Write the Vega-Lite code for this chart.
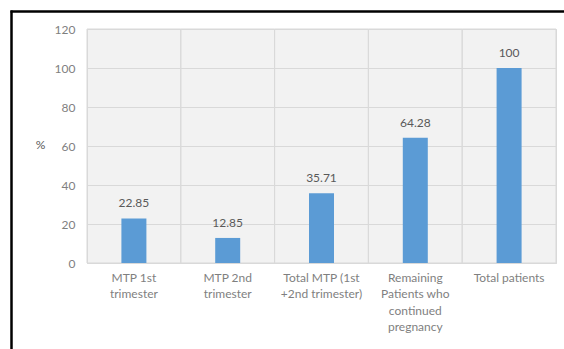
{
  "$schema": "https://vega.github.io/schema/vega-lite/v6.json",
  "width": 469,
  "height": 234,
  "autosize": {"type": "none"},
  "padding": {"left": 87, "top": 29, "right": 8, "bottom": 86},
  "background": "white",
  "config": {
    "font": "Lato",
    "view": {"fill": "#f2f2f2", "stroke": "#d9d9d9", "strokeWidth": 1},
    "axisY": {
      "title": "%", "titleAngle": 0, "titleFontSize": 12, "titleFontWeight": "normal",
      "titleColor": "#595959", "titlePadding": 14, "titleY": 122,
      "labelFontSize": 12, "labelColor": "#7f7f7f", "labelPadding": 12,
      "ticks": false, "domain": false, "grid": true, "gridColor": "#d9d9d9", "gridWidth": 1
    }
  },
  "data": {
    "values": [
      {"category": "MTP 1st|trimester", "value": 22.85, "label": "22.85"},
      {"category": "MTP 2nd|trimester", "value": 12.85, "label": "12.85"},
      {"category": "Total MTP  (1st|+2nd trimester)", "value": 35.71, "label": "35.71"},
      {"category": "Remaining|Patients who|continued|pregnancy", "value": 64.28, "label": "64.28"},
      {"category": "Total patients", "value": 100, "label": "100"}
    ]
  },
  "layer": [
    {
      "layer": [
        {
          "mark": {"type": "rect", "fill": null, "fillOpacity": 0, "stroke": "#d9d9d9", "strokeWidth": 1},
          "encoding": {
            "x": {
              "field": "category", "type": "nominal", "sort": null,
              "scale": {"paddingInner": 0, "paddingOuter": 0},
              "axis": {
                "title": null, "labelAngle": 0, "labelExpr": "split(datum.label, '|')",
                "labelFontSize": 12, "labelColor": "#7f7f7f", "labelLineHeight": 16.5,
                "labelPadding": 9, "labelBaseline": "top", "ticks": false, "domain": true,
                "domainColor": "#d9d9d9", "grid": false, "labelLimit": 200
              }
            },
            "y": {"datum": 0, "type": "quantitative",
                  "scale": {"domain": [0, 120], "nice": false},
                  "axis": {"title": "%", "values": [0, 20, 40, 60, 80, 100, 120], "labelOverlap": false}},
            "y2": {"datum": 120}
          }
        },
        {
          "mark": {"type": "bar", "width": 25, "color": "#5B9BD5"},
          "encoding": {
            "x": {"field": "category", "type": "nominal", "sort": null},
            "y": {"field": "value", "type": "quantitative",
                  "scale": {"domain": [0, 120], "nice": false},
                  "axis": {"title": "%", "values": [0, 20, 40, 60, 80, 100, 120], "labelOverlap": false}}
          }
        },
        {
          "mark": {"type": "text", "baseline": "bottom", "dy": -8, "fontSize": 12, "color": "#595959"},
          "encoding": {
            "x": {"field": "category", "type": "nominal", "sort": null},
            "y": {"field": "value", "type": "quantitative",
                  "scale": {"domain": [0, 120], "nice": false},
                  "axis": {"title": "%", "values": [0, 20, 40, 60, 80, 100, 120], "labelOverlap": false}},
            "text": {"field": "label"}
          }
        }
      ]
    },
    {
      "mark": {"type": "point", "opacity": 0},
      "encoding": {
        "x": {
          "field": "value", "type": "quantitative",
          "scale": {"domain": [0, 1], "range": [-77, 478], "nice": false, "zero": false},
          "axis": {"orient": "top", "offset": 18, "domain": true, "domainColor": "#000000", "domainWidth": 2.5,
                   "ticks": false, "labels": false, "grid": false, "title": null}
        },
        "y": {
          "field": "value", "type": "quantitative",
          "scale": {"domain": [0, 1], "range": [321, -19], "nice": false, "zero": false},
          "axis": {"orient": "left", "offset": 76, "domain": true, "domainColor": "#000000", "domainWidth": 2.5,
                   "ticks": false, "labels": false, "grid": false, "title": null}
        }
      }
    }
  ],
  "resolve": {"scale": {"x": "independent", "y": "independent"}, "axis": {"x": "independent", "y": "independent"}}
}
